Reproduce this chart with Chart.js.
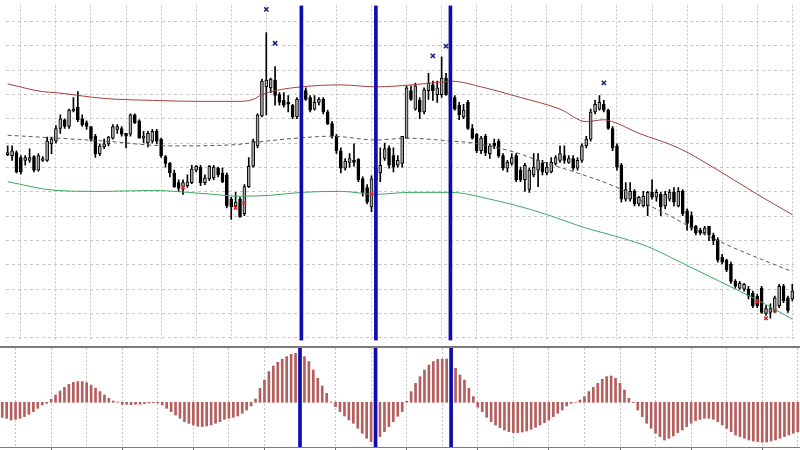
<!DOCTYPE html>
<html>
<head>
<meta charset="utf-8">
<script src="https://cdn.jsdelivr.net/npm/chart.js@4.4.1/dist/chart.umd.min.js"></script>
<style>
  html, body { margin: 0; padding: 0; background: #fff; }
  #wrap { position: relative; width: 800px; height: 450px; overflow: hidden; background: #fff; }
  #price { position: absolute; left: 0; top: 0; }
  #osc { position: absolute; left: 0; top: 348px; }
  .sep { position: absolute; left: 0; width: 800px; background: #7c7c7c; }
</style>
</head>
<body>
<div id="wrap">
  <canvas id="price" width="800" height="346"></canvas>
  <div class="sep" style="top:346px;height:2px"></div>
  <canvas id="osc" width="800" height="102"></canvas>
  <div class="sep" style="top:447px;height:1px"></div>
</div>
<script>
// candles (points)
var open = [
  192,191,194,189,186,186,190,176,186,186,
  203,206,219,228,221,237,241,229,225,221,
  211,193,200,203,209,218,219,214,213,233,
  227,209,204,206,216,208,190,183,173,163,
  159,160,163,176,179,163,167,168,178,173,
  171,146,139,146,131,159,180,201,232,262,
  261,269,254,248,246,243,231,249,258,251,
  239,246,249,236,224,211,196,178,184,186,
  187,167,158,138,166,173,188,199,191,181,
  183,209,258,239,248,236,258,264,254,254,
  271,256,251,243,231,246,219,213,196,211,
  193,204,206,191,178,183,191,176,166,156,
  171,176,183,173,174,183,186,191,184,188,
  178,186,201,208,236,239,244,238,219,201,
  181,146,146,154,141,139,139,153,148,151,
  139,146,153,139,154,134,129,118,114,111,
  118,109,104,86,83,79,61,54,53,53,
  49,46,54,28,29,31,36,56,44,43
];
var high = [
  201,201,196,191,191,198,191,193,190,210,
  210,222,233,229,239,251,257,233,227,221,
  213,203,208,211,223,223,221,214,234,234,
  228,216,216,218,218,209,191,184,176,166,
  166,171,181,181,181,171,181,181,179,178,
  173,148,153,148,161,189,208,234,270,318,
  271,283,256,256,253,244,251,259,261,253,
  253,251,251,238,226,213,199,188,193,203,
  188,169,161,170,181,199,204,201,199,191,
  211,263,263,266,251,261,276,268,268,293,
  276,258,253,246,244,248,223,214,211,213,
  203,208,208,193,186,193,193,179,183,178,
  193,193,186,184,189,191,201,201,191,191,
  189,203,211,239,248,253,248,239,221,203,
  183,163,163,156,149,154,154,166,156,153,
  154,156,158,158,156,136,133,119,116,118,
  118,111,106,89,84,81,63,61,59,56,
  51,48,56,36,38,46,58,58,46,58
];
var low = [
  191,186,173,172,181,184,174,175,185,185,
  193,204,214,219,219,236,226,221,218,206,
  189,191,198,201,208,214,211,199,211,224,
  209,204,200,204,203,189,179,169,158,154,
  151,158,162,174,160,161,165,166,169,163,
  137,125,138,127,129,158,179,199,231,233,
  256,243,243,241,236,229,229,247,248,236,
  238,243,234,223,209,193,173,176,179,180,
  164,149,141,133,163,164,186,178,174,179,
  179,209,248,238,229,234,249,248,246,251,
  253,243,238,228,229,218,208,194,193,191,
  188,198,189,176,174,181,164,164,154,153,
  169,159,171,171,173,181,184,183,183,176,
  176,184,199,206,234,238,236,218,196,176,
  143,144,144,139,139,138,129,146,144,129,
  136,144,139,138,129,114,114,109,109,109,
  103,99,81,79,71,59,54,53,51,43,
  34,34,28,26,23,29,34,39,29,41
];
var close = [
  194,196,174,174,189,189,176,191,188,206,
  208,219,229,221,238,239,228,223,221,208,
  193,201,203,210,221,221,213,211,233,225,
  209,211,214,216,206,191,183,173,159,157,
  163,164,177,180,163,168,180,179,171,164,
  139,138,143,128,159,180,206,233,268,269,
  270,253,246,243,244,231,249,256,249,238,
  246,249,236,224,211,196,178,185,188,184,
  166,153,143,167,178,181,198,181,179,186,
  211,261,249,263,236,259,266,258,261,271,
  254,245,239,233,238,219,209,196,209,194,
  201,201,191,178,184,189,166,166,181,176,
  179,186,174,179,184,189,193,186,188,178,
  186,201,208,236,244,246,238,219,199,179,
  146,156,154,141,148,149,153,148,153,138,
  151,153,143,154,131,121,116,111,111,116,
  109,103,83,81,73,61,56,59,58,46,
  36,36,29,33,33,44,56,41,31,51
];

// oscillator histogram
var osc = [
  -15,-16,-17.7,-17,-16,-14.3,-12,-9.3,-6,-2.7,
  -1,3,7.3,11.3,15,18,20,20.7,20.7,19.7,
  17.3,14,10.7,7.3,4,1.3,0.3,-2,-2,-2.3,
  -2,-2,-1.3,-0.7,-0.3,-0.7,-2.7,-6,-9.3,-12.7,
  -16,-19.3,-21,-22.7,-24,-24.3,-23.7,-22.7,-21,-19.3,
  -17,-16,-15,-13.7,-11,-7.7,-3.7,3.3,14,22.3,
  30.7,36.3,40,43,45.7,48,49,49,45.7,40.7,
  32.3,24,16.3,9,0.3,-4.3,-9.3,-13.7,-17.7,-21,
  -26,-31,-36,-39.3,-40,-34.3,-29.3,-24.3,-19.3,-14,
  -9.3,1,10.7,19,25.7,32.3,37.3,40.7,43,43.3,
  43.3,43,34,27.3,22.3,14,5.7,-5,-9.3,-15,
  -19.3,-22.7,-25.3,-27.7,-29.3,-30.3,-30.3,-29.7,-28.7,-27,
  -25,-22.7,-20.3,-17.7,-14.3,-11,-7.7,-3.7,-1,0,
  2.3,5.7,10.7,15,19,23,25.7,26.3,24,19,
  12.3,4,-0.3,-7.7,-14.3,-21,-26,-31,-34.3,-37.7,
  -36,-33.7,-30.3,-27.7,-24.3,-21,-18.3,-17,-16,-16,
  -17,-19.3,-22.7,-26,-29.3,-32.7,-34.3,-36,-37.7,-38.7,
  -39.3,-40,-39.7,-38.7,-37.7,-36,-34.3,-32.7,-31,-29.3
];

// channel lines: [bar, value]
var upperBand = [[0,265],[8,257],[11,256],[22,250],[33,248],[44,247],[53,247],[56,249],[58,254],[61,258],[67,262],[76,264],[84,262],[92,264],[99,267],[101,268],[108,262],[117,251],[126,239],[132,226],[136,228],[138,226],[144,214],[153,199],[162,176],[171,151],[179,130]];
var middleBand = [[0,212],[22,206],[37,201],[51,202],[59,206],[66,209],[74,211],[84,207],[91,209],[101,206],[106,204],[116,194],[121,186],[130,173],[139,158],[147,138],[151,129],[155,119],[164,99],[179,71]];
var lowerBand = [[0,164],[11,155],[22,154],[33,155],[44,152],[53,149],[60,150],[67,153],[76,154],[84,151],[92,153],[101,153],[110,146],[121,133],[132,116],[140,106],[146,97],[153,82],[162,62],[171,42],[179,22]];

// signal marks
var highMarks = [[59,342],[61,307],[97,294],[100,304],[136,266]];
var lowMarks = [[40,158],[52,137],[54,142],[83,151],[171,40],[173,23],[175,31]];

// vertical markers, grid
var vLines = [67, 84, 101];
var gridBars = [3,11,19,27,35,43,51,59,67,75,83,91,99,107,115,123,131,139,147,155,163,171,179];
var gridPrices = [329.3,304.2,279.0,253.9,228.8,203.6,178.5,153.4,128.3,103.1,78.0,52.9,27.7,2.6];

var priceMin = 0, priceMax = 346;
var oscMin = -44.7, oscMax = 54.3;

var bars = open.map(function(v, i) { return i; });

function pts(list) {
    return list.map(function(p) { return {x: p[0], y: p[1]}; });
}

function xAxis(withTicks) {
    return {
        type: 'linear',
        min: -0.5,
        max: 179.5,
        bounds: 'data',
        offset: false,
        afterBuildTicks: function(s) {
            s.ticks = gridBars.map(function(v) { return {value: v}; });
        },
        ticks: { display: false },
        grid: {
            offset: false,
            color: '#c6c6c6',
            lineWidth: 1,
            drawTicks: withTicks,
            tickLength: 3,
            tickWidth: 1,
            tickColor: function(c) {
                return c.tick && (c.tick.value - 11) % 16 === 0 ? '#6e6e6e' : 'rgba(0,0,0,0)';
            }
        },
        border: { display: false, dash: [2, 2] }
    };
}

var blue = '#0c0cb0';

new Chart(document.getElementById('price').getContext('2d'), {
    type: 'bar',
    data: {
        labels: bars,
        datasets: [
            {
                // wicks
                data: high.map(function(h, i) { return [low[i], h]; }),
                backgroundColor: '#000',
                borderWidth: 0,
                barThickness: 1,
                grouped: false,
                order: 5
            },
            {
                // bodies
                data: open.map(function(o, i) { return [o, close[i]]; }),
                backgroundColor: open.map(function(o, i) { return close[i] >= o ? '#a8a8a8' : '#000'; }),
                borderColor: '#000',
                borderWidth: 1,
                borderSkipped: false,
                barThickness: 3,
                grouped: false,
                order: 4
            },
            {
                type: 'line',
                data: pts(upperBand),
                borderColor: '#a4403c',
                borderWidth: 1,
                pointRadius: 0,
                cubicInterpolationMode: 'monotone',
                order: 3
            },
            {
                type: 'line',
                data: pts(middleBand),
                borderColor: '#5a5a5a',
                borderWidth: 1,
                borderDash: [4, 3],
                pointRadius: 0,
                cubicInterpolationMode: 'monotone',
                order: 3
            },
            {
                type: 'line',
                data: pts(lowerBand),
                borderColor: '#3ea860',
                borderWidth: 1,
                pointRadius: 0,
                cubicInterpolationMode: 'monotone',
                order: 3
            },
            {
                type: 'line',
                data: pts(highMarks),
                showLine: false,
                pointStyle: 'crossRot',
                pointRadius: 3,
                borderColor: '#1c1c80',
                borderWidth: 1.5,
                clip: false,
                order: 2
            },
            {
                type: 'line',
                data: pts(lowMarks),
                showLine: false,
                pointStyle: 'crossRot',
                pointRadius: 2.5,
                borderColor: '#d02828',
                borderWidth: 1.5,
                order: 2
            },
            {
                data: vLines.map(function(i) { return {x: i, y: [priceMin, priceMax]}; }),
                backgroundColor: blue,
                borderWidth: 0,
                barThickness: 3,
                grouped: false,
                order: 0
            }
        ]
    },
    options: {
        responsive: false,
        animation: false,
        devicePixelRatio: 1,
        layout: { padding: 0 },
        plugins: { legend: { display: false }, tooltip: { enabled: false } },
        scales: {
            x: xAxis(false),
            y: {
                min: priceMin,
                max: priceMax,
                bounds: 'data',
                afterBuildTicks: function(s) {
                    s.ticks = gridPrices.map(function(v) { return {value: v}; });
                },
                ticks: { display: false },
                grid: { color: '#c6c6c6', drawTicks: false },
                border: { display: false, dash: [3, 3] }
            }
        }
    }
});

new Chart(document.getElementById('osc').getContext('2d'), {
    type: 'bar',
    data: {
        labels: bars,
        datasets: [
            {
                data: osc,
                backgroundColor: '#b45e5e',
                borderWidth: 0,
                barThickness: 2,
                grouped: false,
                order: 2
            },
            {
                data: vLines.map(function(i) { return {x: i, y: [oscMin, oscMax]}; }),
                backgroundColor: blue,
                borderWidth: 0,
                barThickness: 3,
                grouped: false,
                order: 0
            }
        ]
    },
    options: {
        responsive: false,
        animation: false,
        devicePixelRatio: 1,
        layout: { padding: 0 },
        plugins: { legend: { display: false }, tooltip: { enabled: false } },
        scales: {
            x: xAxis(true),
            y: { display: false, min: oscMin, max: oscMax, bounds: 'data' }
        }
    }
});
</script>
</body>
</html>
